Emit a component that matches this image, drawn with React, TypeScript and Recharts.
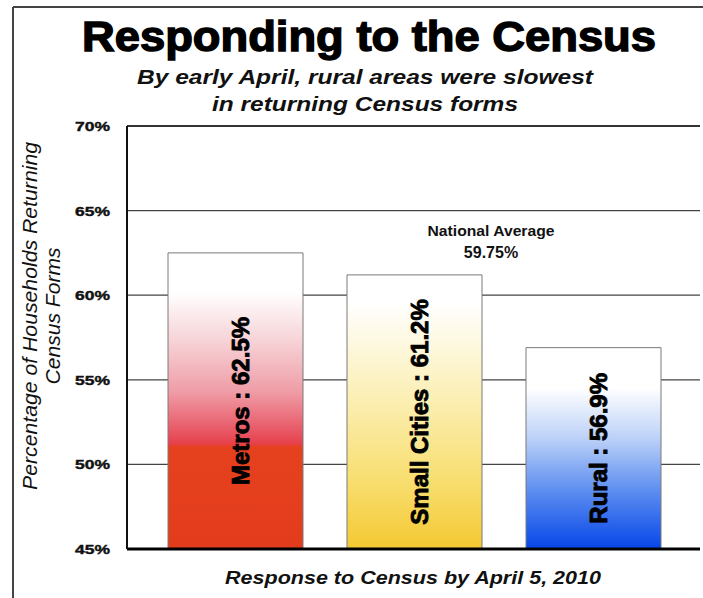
import React from 'react';
import { BarChart, Bar, XAxis, YAxis, CartesianGrid, Cell, LabelList, ReferenceLine } from 'recharts';

const categories = ['Metros', 'Small Cities', 'Rural'];
const values = [62.5, 61.2, 56.9];
const yTicks = [45, 50, 55, 60, 65, 70];
const nationalAverage = 59.75;

const data = categories.map((name, i) => ({ name, value: values[i] }));

const FONT = '"Liberation Sans", Arial, Helvetica, sans-serif';

const gradients = [
  {
    id: 'gMetro',
    stops: [
      [0, '#ffffff'],
      [0.13, '#ffffff'],
      [0.3, '#f6d2d6'],
      [0.47, '#ef9ca6'],
      [0.6, '#e85866'],
      [0.645, '#e6404a'],
      [0.655, '#e6411f'],
      [1, '#e23c1c'],
    ],
  },
  {
    id: 'gSmall',
    stops: [
      [0, '#ffffff'],
      [0.1, '#ffffff'],
      [0.45, '#fbefb4'],
      [0.75, '#f8de70'],
      [1, '#f4c832'],
    ],
  },
  {
    id: 'gRural',
    stops: [
      [0, '#ffffff'],
      [0.2, '#ffffff'],
      [0.45, '#bcd1f8'],
      [0.7, '#6090f0'],
      [1, '#0646e8'],
    ],
  },
];

const YTick = (props: any) => {
  const { x, y, payload } = props;
  return (
    <text
      x={x}
      y={y + 5}
      textAnchor="end"
      fontFamily={FONT}
      fontWeight="bold"
      fontSize={13}
      fill="#111"
      stroke="#111"
      strokeWidth={0.4}
      textLength={35}
      lengthAdjust="spacingAndGlyphs"
    >
      {`${payload.value}%`}
    </text>
  );
};

const BarText = (props: any) => {
  const { x, y, width, height, index } = props;
  const cx = x + width / 2 + 14;
  const cy = y + height / 2;
  return (
    <text
      x={cx}
      y={cy}
      transform={`rotate(-90, ${cx}, ${cy})`}
      textAnchor="middle"
      fontFamily={FONT}
      fontWeight="bold"
      fontSize={24}
      fill="#000"
      stroke="#000"
      strokeWidth={0.9}
    >
      {`${categories[index]} : ${values[index]}%`}
    </text>
  );
};

export default function App() {
  return (
    <div style={{ position: 'absolute', left: 0, top: 0, width: 703, height: 598, background: '#fff', overflow: 'hidden' }}>
      <svg width={703} height={598} style={{ position: 'absolute', left: 0, top: 0 }}>
        <line x1={13} y1={7} x2={703} y2={7} stroke="#444" strokeWidth={2} />
        <line x1={13} y1={7} x2={13} y2={598} stroke="#444" strokeWidth={2} />
        <text x={369} y={51} textAnchor="middle" fontFamily={FONT} fontWeight="bold" fontSize={42} fill="#000" stroke="#000" strokeWidth={1.4} textLength={574} lengthAdjust="spacingAndGlyphs">
          Responding to the Census
        </text>
        <text x={365} y={84} textAnchor="middle" fontFamily={FONT} fontWeight="bold" fontStyle="italic" fontSize={20} fill="#111" textLength={456} lengthAdjust="spacingAndGlyphs">
          By early April, rural areas were slowest
        </text>
        <text x={365} y={111} textAnchor="middle" fontFamily={FONT} fontWeight="bold" fontStyle="italic" fontSize={20} fill="#111" textLength={306} lengthAdjust="spacingAndGlyphs">
          in returning Census forms
        </text>
        <text x={37} y={316} transform="rotate(-90, 37, 316)" textAnchor="middle" fontFamily={FONT} fontStyle="italic" fontSize={20} fill="#111" textLength={348} lengthAdjust="spacingAndGlyphs">
          Percentage of Households Returning
        </text>
        <text x={60} y={316} transform="rotate(-90, 60, 316)" textAnchor="middle" fontFamily={FONT} fontStyle="italic" fontSize={20} fill="#111" textLength={137} lengthAdjust="spacingAndGlyphs">
          Census Forms
        </text>
        <text x={413} y={584} textAnchor="middle" fontFamily={FONT} fontWeight="bold" fontStyle="italic" fontSize={18} fill="#111" textLength={376} lengthAdjust="spacingAndGlyphs">
          Response to Census by April 5, 2010
        </text>
      </svg>
      <div style={{ position: 'absolute', left: 0, top: 0 }}>
        <BarChart width={703} height={598} data={data} margin={{ top: 126, right: 3, bottom: 48, left: 67 }} barSize={135}>
          <defs>
            {gradients.map((g) => (
              <linearGradient key={g.id} id={g.id} x1="0" y1="0" x2="0" y2="1">
                {g.stops.map(([o, c], i) => (
                  <stop key={i} offset={o as number} stopColor={c as string} />
                ))}
              </linearGradient>
            ))}
          </defs>
          <CartesianGrid horizontal vertical={false} stroke="#444" strokeWidth={1.2} />
          <XAxis
            dataKey="name"
            height={1}
            tick={false}
            tickLine={false}
            axisLine={false}
            padding={{ left: 19, right: 17 }}
          />
          <YAxis
            domain={[45, 70]}
            ticks={yTicks}
            width={60}
            tickSize={0}
            tickMargin={17}
            tickLine={false}
            axisLine={{ stroke: '#111', strokeWidth: 2 }}
            tick={<YTick />}
            allowDataOverflow
          />
          <ReferenceLine y={70} stroke="#333" strokeWidth={2} />
          <ReferenceLine
            y={nationalAverage}
            stroke="none"
            label={(p: any) => {
              const vb = p.viewBox || {};
              const yy = vb.y;
              return (
                <g>
                  <text x={491} y={yy - 63} textAnchor="middle" fontFamily={FONT} fontWeight="bold" fontSize={15.5} fill="#111" textLength={127} lengthAdjust="spacingAndGlyphs">
                    National Average
                  </text>
                  <text x={491} y={yy - 41} textAnchor="middle" fontFamily={FONT} fontWeight="bold" fontSize={16} fill="#111">
                    {`${nationalAverage}%`}
                  </text>
                </g>
              );
            }}
          />
          <Bar dataKey="value" isAnimationActive={false} stroke="#7a7a7a" strokeWidth={1}>
            {data.map((d, i) => (
              <Cell key={d.name} fill={`url(#${gradients[i].id})`} />
            ))}
            <LabelList dataKey="value" content={<BarText />} />
          </Bar>
          <ReferenceLine y={45} stroke="#000" strokeWidth={3} />
        </BarChart>
      </div>
    </div>
  );
}
